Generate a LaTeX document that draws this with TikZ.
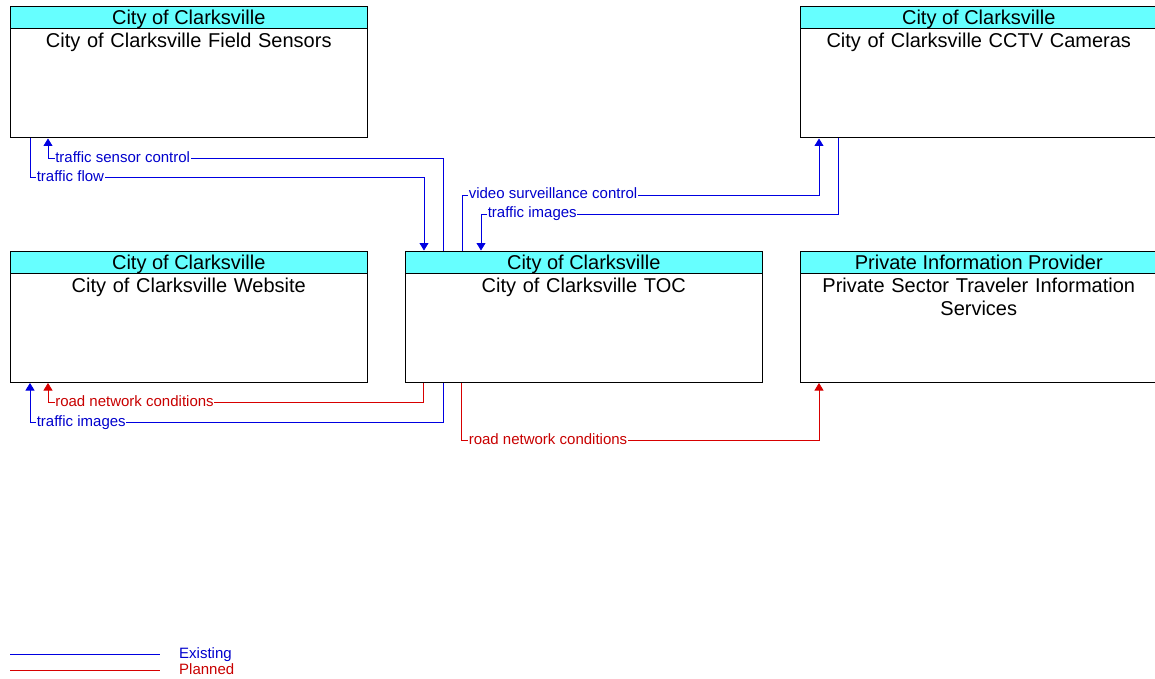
\documentclass[tikz,border=0pt]{standalone}
\usepackage{fontspec}
\setmainfont{Liberation Sans}
\usetikzlibrary{arrows.meta}
\definecolor{hdrcyan}{RGB}{102,255,255}
\definecolor{exline}{RGB}{0,0,225}
\definecolor{extext}{RGB}{0,0,205}
\definecolor{plline}{RGB}{215,0,0}
\definecolor{pltext}{RGB}{200,0,0}
\begin{document}
\begin{tikzpicture}[x=1pt,y=-1pt,
 box/.style={draw=black, line width=1pt, fill=white, minimum width=357.5pt, minimum height=131.5pt, inner sep=0pt, anchor=north west},
 hdr/.style={draw=black, line width=1pt, fill=hdrcyan, minimum width=357.5pt, minimum height=22pt, inner sep=0pt, text height=18pt, text depth=4pt, anchor=north west, font=\fontsize{20}{23}\selectfont},
 ttl/.style={anchor=base, text width=350pt, align=center, inner sep=0pt, font=\fontsize{20}{23}\selectfont},
 ex/.style={draw=exline, line width=0.75pt},
 pl/.style={draw=plline, line width=0.7pt},
 tip/.style={-{Triangle[width=9pt,length=7.5pt]}},
 lab/.style={fill=white, inner xsep=0.6pt, inner ysep=0pt, text height=11pt, text depth=3pt, anchor=west, font=\fontsize{15}{18}\selectfont},
 exlab/.style={lab, text=extext},
 pllab/.style={lab, text=pltext},
 leg/.style={inner sep=0pt, text height=11pt, text depth=3pt, anchor=west, font=\fontsize{15}{18}\selectfont},
]
\useasboundingbox (0,0) rectangle (1155,679);

% boxes
\node[box] (fs) at (9.5,6) {};
\node[hdr] (fsh) at (fs.north west) {City of Clarksville};
\node[ttl] (fst) at ([yshift=-18.5pt]fsh.south) {City of Clarksville Field Sensors};

\node[box] (cctv) at (799.5,6) {};
\node[hdr] (cctvh) at (cctv.north west) {City of Clarksville};
\node[ttl] (cctvt) at ([yshift=-18.5pt]cctvh.south) {City of Clarksville CCTV Cameras};

\node[box] (web) at (9.5,250.5) {};
\node[hdr] (webh) at (web.north west) {City of Clarksville};
\node[ttl] (webt) at ([yshift=-18.5pt]webh.south) {City of Clarksville Website};

\node[box] (toc) at (404.5,250.5) {};
\node[hdr] (toch) at (toc.north west) {City of Clarksville};
\node[ttl] (toct) at ([yshift=-18.5pt]toch.south) {City of Clarksville TOC};

\node[box] (pis) at (799.5,250.5) {};
\node[hdr] (pish) at (pis.north west) {Private Information Provider};
\node[ttl] (pist) at ([yshift=-18.5pt]pish.south) {Private Sector Traveler Information\\Services};

% traffic sensor control: toc -> fs
\draw[ex,tip] ([xshift=38.5pt]toc.north west) |- ([xshift=38.5pt,yshift=-20pt]fs.south west) -- ([xshift=38.5pt]fs.south west);
\node[exlab] (l1) at ([xshift=45pt,yshift=-20pt]fs.south west) {traffic sensor control};

% traffic flow: fs -> toc
\draw[ex,tip] ([xshift=20.5pt]fs.south west) -- ([xshift=20.5pt,yshift=-39pt]fs.south west) -| ([xshift=19.5pt]toc.north west);
\node[exlab] (l2) at ([xshift=26.5pt,yshift=-39pt]fs.south west) {traffic flow};

% video surveillance control: toc -> cctv
\draw[ex,tip] ([xshift=57.5pt]toc.north west) |- ([xshift=19.5pt,yshift=-57pt]cctv.south west) -- ([xshift=19.5pt]cctv.south west);
\node[exlab] (l3) at ([xshift=63.5pt,yshift=56.5pt]toc.north west) {video surveillance control};

% traffic images: cctv -> toc
\draw[ex,tip] ([xshift=38.5pt]cctv.south west) -- ([xshift=38.5pt,yshift=-76pt]cctv.south west) -| ([xshift=76.5pt]toc.north west);
\node[exlab] (l4) at ([xshift=82.5pt,yshift=37.5pt]toc.north west) {traffic images};

% road network conditions: toc -> web
\draw[pl,tip] ([xshift=18.5pt]toc.south west) |- ([xshift=38.5pt,yshift=-19pt]web.south west) -- ([xshift=38.5pt]web.south west);
\node[pllab] (l5) at ([xshift=45pt,yshift=-19pt]web.south west) {road network conditions};

% traffic images: toc -> web
\draw[ex,tip] ([xshift=38.5pt]toc.south west) |- ([xshift=20.5pt,yshift=-39pt]web.south west) -- ([xshift=20.5pt]web.south west);
\node[exlab] (l6) at ([xshift=26.5pt,yshift=-39pt]web.south west) {traffic images};

% road network conditions: toc -> pis
\draw[pl,tip] ([xshift=56.5pt]toc.south west) |- ([xshift=19.5pt,yshift=-57pt]pis.south west) -- ([xshift=19.5pt]pis.south west);
\node[pllab] (l7) at ([xshift=63.5pt,yshift=-57pt]toc.south west) {road network conditions};

% legend
\coordinate (exa) at (10,654.5);
\coordinate (exb) at (160,654.5);
\draw[ex] (exa) -- (exb);
\node[leg, text=extext] (exl) at (179,654.5) {Existing};
\coordinate (pla) at (10,670.5);
\coordinate (plb) at (160,670.5);
\draw[pl] (pla) -- (plb);
\node[leg, text=pltext] (pll) at (179,670.5) {Planned};
\end{tikzpicture}
\end{document}
